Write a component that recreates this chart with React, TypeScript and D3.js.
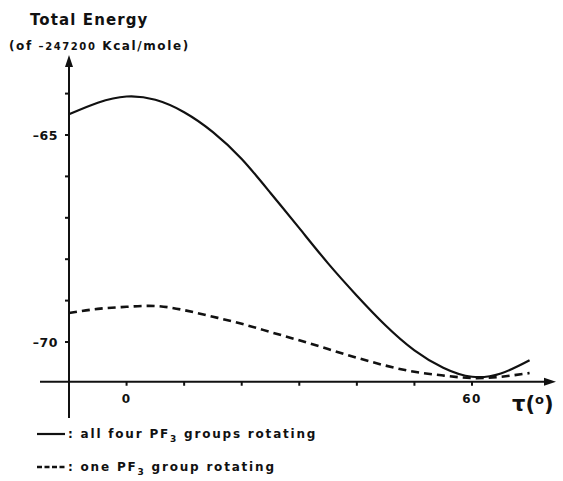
import * as d3 from "d3";

// rotation angle tau (degrees)
const tau = [-10, -5, 0, 5, 10, 15, 20, 25, 30, 35, 40, 45, 50, 55, 60, 65, 70];
// all four PF3 groups rotating
const allFour = [-64.5, -64.22, -64.07, -64.15, -64.45, -64.93, -65.58, -66.4, -67.25, -68.1, -68.88, -69.6, -70.2, -70.62, -70.84, -70.76, -70.44];
// one PF3 group rotating
const onlyOne = [-69.3, -69.2, -69.15, -69.13, -69.23, -69.39, -69.56, -69.76, -69.96, -70.17, -70.38, -70.57, -70.72, -70.81, -70.87, -70.84, -70.75];

const xTicks = [0, 10, 20, 30, 40, 50, 60];
const xTickLabels = ["0", "60"];
const yTicks = [-64, -65, -66, -67, -68, -69, -70];
const yTickLabels = [-65, -70];

const W = 563;
const H = 481;
const FONT = "'DejaVu Sans', 'Liberation Sans', sans-serif";

const App = () => {
  const xScale = d3.scaleLinear().domain([-10, 60]).range([69, 472]);
  const yScale = d3.scaleLinear().domain([-70, -65]).range([342, 135]);

  const x0 = xScale(-10);
  const yBase = yScale(-70.96);
  const yTop = 55;
  const xRight = 556;

  const line = d3
    .line<number>()
    .x((_, i) => xScale(tau[i]))
    .y((d) => yScale(d))
    .curve(d3.curveNatural);

  return (
    <svg width={W} height={H} style={{ position: "absolute", left: 0, top: 0, background: "#fff" }}>
      <g fontFamily={FONT} fontWeight="bold" fill="#111">
        {/* titles */}
        <text x={30} y={25} fontSize={15} letterSpacing={1.1}>Total Energy</text>
        <text x={9} y={50} fontSize={12} letterSpacing={1.6}>
          (of <tspan fontSize={10}>–247200</tspan> Kcal/mole)
        </text>

        {/* axes */}
        <line x1={x0} x2={x0} y1={418} y2={yTop + 8} stroke="#111" strokeWidth={2} />
        <path d={`M${x0},${yTop} L${x0 - 4},${yTop + 12} L${x0 + 4},${yTop + 12} Z`} fill="#111" />
        <line x1={40} x2={xRight - 8} y1={yBase} y2={yBase} stroke="#111" strokeWidth={2} />
        <path d={`M${xRight},${yBase} L${xRight - 12},${yBase - 4} L${xRight - 12},${yBase + 4} Z`} fill="#111" />

        {yTicks.map((t) => (
          <line key={t} x1={x0 - 4} x2={x0} y1={yScale(t)} y2={yScale(t)} stroke="#111" strokeWidth={2} />
        ))}
        {yTickLabels.map((t) => (
          <text key={t} x={58} y={yScale(t) + 4.5} fontSize={12.5} textAnchor="end" letterSpacing={0.5}>
            {"–" + Math.abs(t)}
          </text>
        ))}
        {xTicks.map((t) => (
          <line key={t} x1={xScale(t)} x2={xScale(t)} y1={yBase} y2={yBase + 4} stroke="#111" strokeWidth={2} />
        ))}
        {xTickLabels.map((t) => (
          <text key={t} x={xScale(+t)} y={403} fontSize={12} textAnchor="middle" letterSpacing={1.5}>
            {t}
          </text>
        ))}
        <text x={512} y={411} fontSize={21}>
          τ(<tspan fontSize={13} dy={-7}>o</tspan><tspan dy={7}>)</tspan>
        </text>

        {/* curves */}
        <path d={line(allFour) ?? ""} fill="none" stroke="#111" strokeWidth={2.2} />
        <path d={line(onlyOne) ?? ""} fill="none" stroke="#111" strokeWidth={2.6} strokeDasharray="8 5" />

        {/* legend */}
        <line x1={37} x2={65} y1={434} y2={434} stroke="#111" strokeWidth={2.2} />
        <text x={68} y={438} fontSize={12} letterSpacing={1.8}>
          : all four PF<tspan fontSize={9} dy={4}>3</tspan><tspan dy={-4}> groups rotating</tspan>
        </text>
        <line x1={37} x2={65} y1={467} y2={467} stroke="#111" strokeWidth={2.6} strokeDasharray="5 2.5" />
        <text x={68} y={471} fontSize={12} letterSpacing={1.8}>
          : one PF<tspan fontSize={9} dy={4}>3</tspan><tspan dy={-4}> group rotating</tspan>
        </text>
      </g>
    </svg>
  );
};

export default App;
